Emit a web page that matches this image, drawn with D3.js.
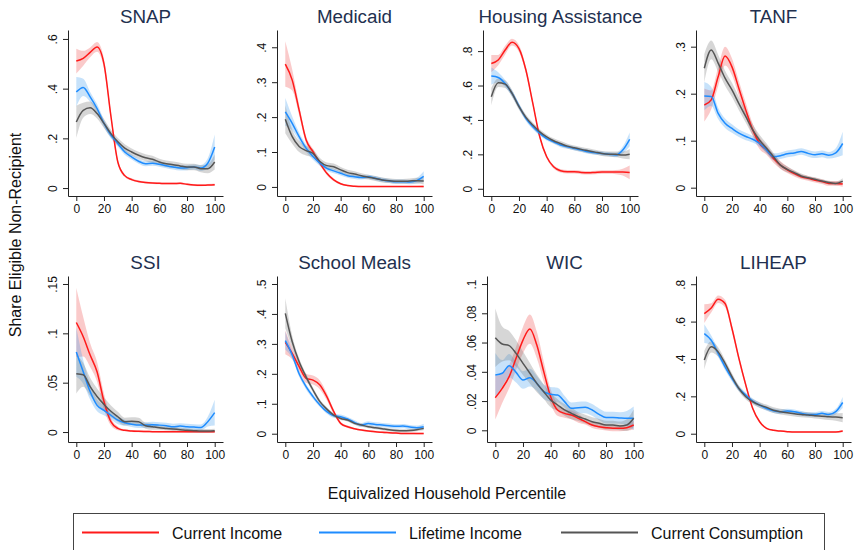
<!DOCTYPE html>
<html>
<head>
<meta charset="utf-8">
<script src="https://cdn.jsdelivr.net/npm/d3@7"></script>
<style>
  html, body { margin: 0; padding: 0; background: #fff; }
  svg { display: block; font-family: "Liberation Sans", Arial, Helvetica, sans-serif; }
</style>
</head>
<body>
<svg id="chart" width="856" height="550"></svg>
<script>
// Share of eligible households not receiving each program, by equivalized household percentile
const percentiles = [0, 5, 10, 15, 20, 25, 30, 35, 40, 45, 50, 55, 60, 65, 70, 75, 80, 85, 90, 95, 100];
const xTicks = [0, 20, 40, 60, 80, 100];
const seriesNames = ["Current Income", "Lifetime Income", "Current Consumption"];

// SNAP
const snapIncome = [0.511, 0.522, 0.546, 0.568, 0.50, 0.29, 0.105, 0.05, 0.034, 0.026, 0.022, 0.02, 0.019, 0.018, 0.018, 0.019, 0.015, 0.012, 0.011, 0.012, 0.013];
const snapIncomeCI = [0.05, 0.03, 0.02, 0.02, 0.02, 0.015, 0.01, 0.006, 0.005, 0.004, 0.004, 0.004, 0.004, 0.004, 0.004, 0.004, 0.004, 0.004, 0.004, 0.004, 0.005];
const snapLifetime = [0.387, 0.405, 0.367, 0.32, 0.26, 0.213, 0.179, 0.145, 0.125, 0.108, 0.098, 0.1, 0.096, 0.09, 0.085, 0.081, 0.082, 0.085, 0.081, 0.1, 0.165];
const snapLifetimeCI = [0.06, 0.035, 0.02, 0.018, 0.015, 0.013, 0.012, 0.011, 0.01, 0.01, 0.01, 0.01, 0.01, 0.01, 0.01, 0.01, 0.01, 0.01, 0.012, 0.02, 0.05];
const snapConsumption = [0.266, 0.313, 0.323, 0.30, 0.26, 0.219, 0.186, 0.161, 0.145, 0.132, 0.122, 0.116, 0.105, 0.098, 0.094, 0.089, 0.085, 0.085, 0.078, 0.078, 0.105];
const snapConsumptionCI = [0.065, 0.03, 0.025, 0.02, 0.018, 0.016, 0.015, 0.015, 0.014, 0.014, 0.014, 0.014, 0.013, 0.013, 0.013, 0.013, 0.013, 0.013, 0.014, 0.018, 0.03];

// Medicaid
const medicaidIncome = [0.352, 0.306, 0.22, 0.135, 0.101, 0.068, 0.039, 0.02, 0.009, 0.004, 0.002, 0.001, 0.001, 0.001, 0.001, 0.001, 0.001, 0.001, 0.001, 0.001, 0.001];
const medicaidIncomeCI = [0.065, 0.03, 0.015, 0.01, 0.008, 0.006, 0.005, 0.004, 0.003, 0.002, 0.002, 0.002, 0.002, 0.002, 0.002, 0.002, 0.002, 0.002, 0.002, 0.002, 0.003];
const medicaidLifetime = [0.215, 0.182, 0.144, 0.111, 0.087, 0.068, 0.053, 0.046, 0.039, 0.032, 0.029, 0.027, 0.029, 0.025, 0.02, 0.017, 0.015, 0.015, 0.014, 0.018, 0.03];
const medicaidLifetimeCI = [0.04, 0.02, 0.012, 0.01, 0.009, 0.008, 0.007, 0.007, 0.006, 0.006, 0.006, 0.006, 0.006, 0.006, 0.006, 0.006, 0.006, 0.006, 0.006, 0.008, 0.015];
const medicaidConsumption = [0.194, 0.144, 0.116, 0.104, 0.096, 0.073, 0.061, 0.058, 0.049, 0.041, 0.037, 0.032, 0.028, 0.024, 0.02, 0.018, 0.016, 0.016, 0.017, 0.018, 0.017];
const medicaidConsumptionCI = [0.04, 0.02, 0.016, 0.014, 0.012, 0.01, 0.009, 0.009, 0.008, 0.008, 0.008, 0.007, 0.007, 0.007, 0.007, 0.007, 0.007, 0.007, 0.007, 0.008, 0.01];

// Housing Assistance
const housingIncome = [0.728, 0.748, 0.806, 0.852, 0.815, 0.69, 0.496, 0.302, 0.186, 0.128, 0.105, 0.099, 0.099, 0.095, 0.093, 0.095, 0.097, 0.097, 0.097, 0.097, 0.095];
const housingIncomeCI = [0.05, 0.03, 0.025, 0.02, 0.02, 0.018, 0.015, 0.012, 0.01, 0.01, 0.01, 0.01, 0.01, 0.01, 0.01, 0.01, 0.01, 0.01, 0.012, 0.02, 0.04];
const housingLifetime = [0.655, 0.647, 0.612, 0.554, 0.48, 0.409, 0.36, 0.322, 0.292, 0.273, 0.254, 0.244, 0.234, 0.225, 0.215, 0.209, 0.205, 0.201, 0.196, 0.225, 0.287];
const housingLifetimeCI = [0.05, 0.03, 0.02, 0.018, 0.016, 0.015, 0.014, 0.013, 0.012, 0.012, 0.012, 0.012, 0.012, 0.012, 0.012, 0.012, 0.012, 0.012, 0.013, 0.02, 0.04];
const housingConsumption = [0.535, 0.616, 0.608, 0.554, 0.477, 0.415, 0.37, 0.331, 0.302, 0.279, 0.263, 0.248, 0.238, 0.229, 0.221, 0.213, 0.205, 0.201, 0.2, 0.196, 0.201];
const housingConsumptionCI = [0.05, 0.025, 0.022, 0.02, 0.018, 0.016, 0.015, 0.015, 0.014, 0.014, 0.014, 0.014, 0.014, 0.014, 0.014, 0.014, 0.014, 0.015, 0.016, 0.02, 0.03];

// TANF
const tanfIncome = [0.176, 0.187, 0.236, 0.28, 0.257, 0.211, 0.165, 0.123, 0.094, 0.08, 0.062, 0.048, 0.038, 0.03, 0.023, 0.02, 0.016, 0.013, 0.009, 0.009, 0.008];
const tanfIncomeCI = [0.035, 0.02, 0.02, 0.02, 0.018, 0.016, 0.015, 0.013, 0.012, 0.01, 0.009, 0.008, 0.007, 0.006, 0.005, 0.005, 0.005, 0.005, 0.005, 0.005, 0.006];
const tanfLifetime = [0.195, 0.194, 0.158, 0.137, 0.126, 0.116, 0.109, 0.103, 0.094, 0.08, 0.066, 0.068, 0.072, 0.074, 0.077, 0.073, 0.07, 0.072, 0.069, 0.074, 0.094];
const tanfLifetimeCI = [0.03, 0.02, 0.012, 0.01, 0.009, 0.008, 0.008, 0.007, 0.007, 0.007, 0.007, 0.007, 0.007, 0.007, 0.007, 0.007, 0.007, 0.007, 0.007, 0.01, 0.025];
const tanfConsumption = [0.254, 0.293, 0.265, 0.233, 0.208, 0.179, 0.151, 0.123, 0.101, 0.084, 0.066, 0.048, 0.039, 0.032, 0.025, 0.021, 0.018, 0.014, 0.011, 0.009, 0.014];
const tanfConsumptionCI = [0.03, 0.02, 0.018, 0.016, 0.015, 0.014, 0.013, 0.012, 0.011, 0.01, 0.008, 0.007, 0.006, 0.005, 0.005, 0.004, 0.004, 0.004, 0.004, 0.004, 0.006];

// SSI
const ssiIncome = [0.111, 0.0966, 0.078, 0.061, 0.031, 0.0105, 0.0037, 0.0017, 0.001, 0.0007, 0.0005, 0.0004, 0.0003, 0.0003, 0.0003, 0.0003, 0.0003, 0.0003, 0.0003, 0.0003, 0.0003];
const ssiIncomeCI = [0.035, 0.02, 0.012, 0.01, 0.008, 0.004, 0.002, 0.001, 0.001, 0.001, 0.001, 0.001, 0.001, 0.001, 0.001, 0.001, 0.001, 0.001, 0.001, 0.001, 0.001];
const ssiLifetime = [0.081, 0.061, 0.041, 0.027, 0.022, 0.017, 0.012, 0.0095, 0.008, 0.007, 0.007, 0.0074, 0.007, 0.0064, 0.0054, 0.006, 0.0054, 0.005, 0.0047, 0.0105, 0.0196];
const ssiLifetimeCI = [0.025, 0.012, 0.008, 0.006, 0.005, 0.004, 0.004, 0.003, 0.003, 0.003, 0.003, 0.003, 0.003, 0.003, 0.003, 0.003, 0.003, 0.003, 0.003, 0.005, 0.013];
const ssiConsumption = [0.059, 0.058, 0.046, 0.036, 0.028, 0.021, 0.0155, 0.0105, 0.011, 0.0105, 0.0064, 0.0054, 0.0044, 0.0037, 0.003, 0.0024, 0.0017, 0.0014, 0.001, 0.001, 0.0014];
const ssiConsumptionCI = [0.02, 0.012, 0.009, 0.008, 0.007, 0.006, 0.005, 0.004, 0.004, 0.004, 0.003, 0.003, 0.002, 0.002, 0.002, 0.002, 0.002, 0.002, 0.002, 0.002, 0.002];

// School Meals
const mealsIncome = [0.305, 0.268, 0.224, 0.185, 0.179, 0.163, 0.124, 0.0735, 0.0345, 0.023, 0.0167, 0.0122, 0.009, 0.0067, 0.0045, 0.0033, 0.0022, 0.001, 0.001, 0.0005, 0.0005];
const mealsIncomeCI = [0.04, 0.02, 0.015, 0.015, 0.015, 0.015, 0.012, 0.008, 0.005, 0.004, 0.003, 0.003, 0.003, 0.003, 0.003, 0.003, 0.003, 0.003, 0.003, 0.003, 0.003];
const mealsLifetime = [0.311, 0.263, 0.2, 0.157, 0.124, 0.096, 0.0735, 0.06, 0.0568, 0.049, 0.038, 0.029, 0.0345, 0.031, 0.029, 0.0267, 0.0245, 0.0256, 0.0223, 0.02, 0.0234];
const mealsLifetimeCI = [0.03, 0.012, 0.01, 0.009, 0.008, 0.007, 0.007, 0.007, 0.007, 0.007, 0.007, 0.007, 0.007, 0.007, 0.007, 0.007, 0.007, 0.007, 0.007, 0.007, 0.01];
const mealsConsumption = [0.402, 0.307, 0.24, 0.19, 0.146, 0.107, 0.082, 0.062, 0.051, 0.0457, 0.0345, 0.029, 0.0234, 0.02, 0.0167, 0.0134, 0.011, 0.01, 0.011, 0.0134, 0.0178];
const mealsConsumptionCI = [0.05, 0.02, 0.012, 0.01, 0.008, 0.007, 0.006, 0.006, 0.005, 0.005, 0.005, 0.005, 0.005, 0.005, 0.005, 0.005, 0.005, 0.005, 0.005, 0.005, 0.006];

// WIC
const wicIncome = [0.0223, 0.0287, 0.0367, 0.0492, 0.0617, 0.0692, 0.0583, 0.0401, 0.023, 0.0139, 0.0116, 0.0105, 0.0082, 0.0059, 0.0036, 0.0025, 0.0018, 0.0014, 0.0014, 0.0018, 0.0036];
const wicIncomeCI = [0.015, 0.01, 0.008, 0.008, 0.009, 0.01, 0.009, 0.007, 0.005, 0.004, 0.003, 0.003, 0.003, 0.002, 0.002, 0.002, 0.002, 0.002, 0.002, 0.002, 0.003];
const wicLifetime = [0.0378, 0.039, 0.0442, 0.0396, 0.0344, 0.036, 0.0321, 0.0264, 0.0246, 0.0241, 0.0196, 0.015, 0.0155, 0.0157, 0.0139, 0.0109, 0.0087, 0.0087, 0.0084, 0.0082, 0.0082];
const wicLifetimeCI = [0.015, 0.009, 0.008, 0.007, 0.006, 0.006, 0.005, 0.005, 0.005, 0.005, 0.004, 0.004, 0.004, 0.004, 0.004, 0.004, 0.004, 0.004, 0.004, 0.005, 0.008];
const wicConsumption = [0.0633, 0.059, 0.0579, 0.0526, 0.0458, 0.039, 0.0321, 0.0264, 0.0207, 0.0173, 0.0139, 0.0116, 0.0093, 0.0077, 0.0059, 0.0048, 0.0036, 0.0036, 0.003, 0.0036, 0.0082];
const wicConsumptionCI = [0.02, 0.012, 0.01, 0.009, 0.008, 0.007, 0.006, 0.005, 0.005, 0.004, 0.004, 0.004, 0.003, 0.003, 0.003, 0.003, 0.003, 0.003, 0.003, 0.004, 0.006];

// LIHEAP
const liheapIncome = [0.643, 0.673, 0.72, 0.697, 0.563, 0.403, 0.26, 0.135, 0.064, 0.0285, 0.018, 0.014, 0.011, 0.009, 0.009, 0.009, 0.009, 0.009, 0.009, 0.009, 0.014];
const liheapIncomeCI = [0.05, 0.025, 0.02, 0.02, 0.018, 0.016, 0.014, 0.01, 0.007, 0.005, 0.004, 0.004, 0.004, 0.004, 0.004, 0.004, 0.004, 0.004, 0.004, 0.004, 0.006];
const liheapLifetime = [0.536, 0.5, 0.43, 0.358, 0.296, 0.242, 0.207, 0.175, 0.153, 0.135, 0.123, 0.118, 0.121, 0.118, 0.109, 0.103, 0.103, 0.109, 0.103, 0.118, 0.167];
const liheapLifetimeCI = [0.05, 0.025, 0.02, 0.018, 0.016, 0.015, 0.014, 0.013, 0.013, 0.012, 0.012, 0.012, 0.012, 0.012, 0.012, 0.012, 0.012, 0.012, 0.013, 0.015, 0.03];
const liheapConsumption = [0.394, 0.465, 0.438, 0.376, 0.305, 0.242, 0.198, 0.171, 0.153, 0.141, 0.126, 0.118, 0.112, 0.107, 0.103, 0.1, 0.096, 0.094, 0.091, 0.089, 0.086];
const liheapConsumptionCI = [0.05, 0.03, 0.025, 0.02, 0.018, 0.016, 0.015, 0.015, 0.015, 0.015, 0.015, 0.015, 0.015, 0.015, 0.015, 0.015, 0.015, 0.016, 0.018, 0.02, 0.025];

// y-axis ticks and ranges for each program
const snapTicks = [0, 0.2, 0.4, 0.6];
const medicaidTicks = [0, 0.1, 0.2, 0.3, 0.4];
const housingTicks = [0, 0.2, 0.4, 0.6, 0.8];
const tanfTicks = [0, 0.1, 0.2, 0.3];
const ssiTicks = [0, 0.05, 0.1, 0.15];
const mealsTicks = [0, 0.1, 0.2, 0.3, 0.4, 0.5];
const wicTicks = [0, 0.02, 0.04, 0.06, 0.08, 0.1];
const liheapTicks = [0, 0.2, 0.4, 0.6, 0.8];

const panels = [
  { title: "SNAP", ticks: snapTicks, domain: [-0.032, 0.636],
    series: [[snapIncome, snapIncomeCI], [snapLifetime, snapLifetimeCI], [snapConsumption, snapConsumptionCI]] },
  { title: "Medicaid", ticks: medicaidTicks, domain: [-0.026, 0.4495],
    series: [[medicaidIncome, medicaidIncomeCI], [medicaidLifetime, medicaidLifetimeCI], [medicaidConsumption, medicaidConsumptionCI]] },
  { title: "Housing Assistance", ticks: housingTicks, domain: [-0.042, 0.9227],
    series: [[housingIncome, housingIncomeCI], [housingLifetime, housingLifetimeCI], [housingConsumption, housingConsumptionCI]] },
  { title: "TANF", ticks: tanfTicks, domain: [-0.0177, 0.3355],
    series: [[tanfIncome, tanfIncomeCI], [tanfLifetime, tanfLifetimeCI], [tanfConsumption, tanfConsumptionCI]] },
  { title: "SSI", ticks: ssiTicks, domain: [-0.0101, 0.1581],
    series: [[ssiIncome, ssiIncomeCI], [ssiLifetime, ssiLifetimeCI], [ssiConsumption, ssiConsumptionCI]] },
  { title: "School Meals", ticks: mealsTicks, domain: [-0.0277, 0.5267],
    series: [[mealsIncome, mealsIncomeCI], [mealsLifetime, mealsLifetimeCI], [mealsConsumption, mealsConsumptionCI]] },
  { title: "WIC", ticks: wicTicks, domain: [-0.008, 0.1055],
    series: [[wicIncome, wicIncomeCI], [wicLifetime, wicLifetimeCI], [wicConsumption, wicConsumptionCI]] },
  { title: "LIHEAP", ticks: liheapTicks, domain: [-0.0444, 0.844],
    series: [[liheapIncome, liheapIncomeCI], [liheapLifetime, liheapLifetimeCI], [liheapConsumption, liheapConsumptionCI]] }
];

// styling
const lineColors = ["#ff1a1a", "#1e8cff", "#555555"];
const bandColors = ["rgba(240,80,80,0.30)", "rgba(70,160,240,0.30)", "rgba(120,120,120,0.30)"];
const titleColor = "#22304f";
const axisColor = "#222";

// layout
const panelLeft = [68, 277, 483, 696, 68, 277, 487, 696];
const rowTop = [30, 276];
const rowBottom = [196, 442];
const panelWidth = 155;

const svg = d3.select("#chart");
const fmt = v => v === 0 ? "0" : String(+v.toFixed(3)).replace(/^0/, "");

panels.forEach((p, i) => {
  const row = i < 4 ? 0 : 1;
  const left = panelLeft[i];
  const top = rowTop[row], bottom = rowBottom[row];

  const x = d3.scaleLinear().domain([-6, 106]).range([left, left + panelWidth]);
  const y = d3.scaleLinear().domain(p.domain).range([bottom, top]);

  const g = svg.append("g");

  // confidence bands
  p.series.forEach(([vals, ci], k) => {
    const area = d3.area()
      .x((d, j) => x(percentiles[j]))
      .y0((d, j) => y(vals[j] - ci[j]))
      .y1((d, j) => y(vals[j] + ci[j]))
      .curve(d3.curveMonotoneX);
    g.append("path").datum(vals).attr("d", area)
      .attr("fill", bandColors[k]).attr("stroke", "none");
  });

  // smoothed shares
  p.series.forEach(([vals], k) => {
    const line = d3.line()
      .x((d, j) => x(percentiles[j]))
      .y(d => y(d))
      .curve(d3.curveMonotoneX);
    g.append("path").datum(vals).attr("d", line)
      .attr("fill", "none").attr("stroke", lineColors[k])
      .attr("stroke-width", 1.5);
  });

  // x axis
  const xAxis = g.append("g").attr("transform", `translate(0,${bottom})`)
    .call(d3.axisBottom(x).tickValues(xTicks).tickSize(5).tickPadding(3).tickSizeOuter(0));
  xAxis.select(".domain").attr("stroke", axisColor);
  xAxis.selectAll(".tick line").attr("stroke", axisColor);
  xAxis.selectAll("text").attr("font-size", 12).attr("fill", "#111")
    .attr("font-family", "Liberation Sans, Arial, sans-serif");

  // y axis with vertical tick labels
  const yAxis = g.append("g").attr("transform", `translate(${left},0)`)
    .call(d3.axisLeft(y).tickValues(p.ticks).tickSize(5).tickSizeOuter(0).tickFormat(fmt));
  yAxis.select(".domain").attr("stroke", axisColor);
  yAxis.selectAll(".tick line").attr("stroke", axisColor);
  yAxis.selectAll("text")
    .attr("font-size", 12).attr("fill", "#111")
    .attr("font-family", "Liberation Sans, Arial, sans-serif")
    .attr("x", null).attr("dy", null)
    .attr("text-anchor", "middle")
    .attr("transform", "translate(-11.5,0) rotate(-90)");

  // panel title
  svg.append("text")
    .attr("x", left + panelWidth / 2).attr("y", top - 7)
    .attr("text-anchor", "middle")
    .attr("font-size", 18.8).attr("fill", titleColor)
    .text(p.title);
});

// shared axis titles
svg.append("text")
  .attr("transform", "translate(21,235) rotate(-90)")
  .attr("text-anchor", "middle").attr("font-size", 16).attr("fill", "#111")
  .text("Share Eligible Non-Recipient");

svg.append("text")
  .attr("x", 447).attr("y", 499)
  .attr("text-anchor", "middle").attr("font-size", 16).attr("fill", "#111")
  .text("Equivalized Household Percentile");

// legend
const legend = svg.append("g");
legend.append("rect")
  .attr("x", 73.5).attr("y", 513.5).attr("width", 751).attr("height", 40)
  .attr("fill", "#fff").attr("stroke", "#444").attr("stroke-width", 1);

const legendX = [82, 319, 561];
seriesNames.forEach((name, k) => {
  legend.append("line")
    .attr("x1", legendX[k]).attr("x2", legendX[k] + 77)
    .attr("y1", 532.5).attr("y2", 532.5)
    .attr("stroke", lineColors[k]).attr("stroke-width", 1.8);
  legend.append("text")
    .attr("x", legendX[k] + 90).attr("y", 539)
    .attr("font-size", 16).attr("fill", "#111")
    .text(name);
});
</script>
</body>
</html>
